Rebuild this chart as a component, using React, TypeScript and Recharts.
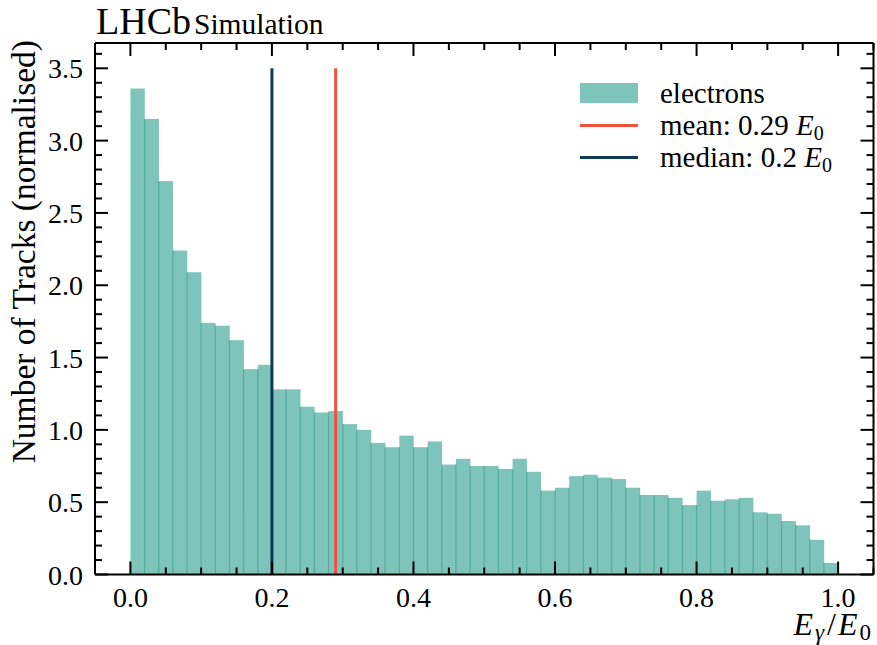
import { Bar, ComposedChart, Legend, Line, ReferenceLine, XAxis, YAxis } from "recharts";

// histogram of E_gamma / E0, 50 bins of width 0.02, normalised
const binStarts = [
  0.0, 0.02, 0.04, 0.06, 0.08, 0.1, 0.12, 0.14, 0.16, 0.18,
  0.2, 0.22, 0.24, 0.26, 0.28, 0.3, 0.32, 0.34, 0.36, 0.38,
  0.4, 0.42, 0.44, 0.46, 0.48, 0.5, 0.52, 0.54, 0.56, 0.58,
  0.6, 0.62, 0.64, 0.66, 0.68, 0.7, 0.72, 0.74, 0.76, 0.78,
  0.8, 0.82, 0.84, 0.86, 0.88, 0.9, 0.92, 0.94, 0.96, 0.98,
];
const binWidth = 0.02;
const electrons = [
  3.36, 3.15, 2.72, 2.24, 2.09, 1.74, 1.72, 1.62, 1.42, 1.45,
  1.28, 1.28, 1.16, 1.12, 1.13, 1.04, 1.0, 0.91, 0.88, 0.96,
  0.88, 0.92, 0.76, 0.8, 0.75, 0.75, 0.73, 0.8, 0.71, 0.58,
  0.6, 0.68, 0.69, 0.67, 0.66, 0.6, 0.55, 0.55, 0.53, 0.48,
  0.58, 0.51, 0.52, 0.53, 0.43, 0.42, 0.37, 0.34, 0.24, 0.08,
];
const meanValue = 0.29;
const medianValue = 0.2;
const lineTop = 3.5;

const xMajorTicks = [0, 0.2, 0.4, 0.6, 0.8, 1.0];
const xMinorTicks = [0.05, 0.1, 0.15, 0.25, 0.3, 0.35, 0.45, 0.5, 0.55, 0.65, 0.7, 0.75, 0.85, 0.9, 0.95, 1.05];
const yMajorTicks = [0, 0.5, 1.0, 1.5, 2.0, 2.5, 3.0, 3.5];
const yMinorTicks = [
  0.1, 0.2, 0.3, 0.4, 0.6, 0.7, 0.8, 0.9, 1.1, 1.2, 1.3, 1.4, 1.6, 1.7, 1.8, 1.9,
  2.1, 2.2, 2.3, 2.4, 2.6, 2.7, 2.8, 2.9, 3.1, 3.2, 3.3, 3.4, 3.6,
];

const legendItems = [
  { kind: "patch", label: "electrons", value: "" },
  { kind: "mean", label: "mean: ", value: "0.29" },
  { kind: "median", label: "median: ", value: "0.2" },
];

const FONT = "'Liberation Serif', 'Times New Roman', serif";
const FILL = "#7fc4bb";
const EDGE = "#55aea0";
const MEAN = "#f4513c";
const MEDIAN = "#0e3a56";

const histData = binStarts.map((s, i) => ({
  x: s + binWidth / 2,
  h: electrons[i],
  prev: i > 0 ? electrons[i - 1] : 0,
}));

const HistBar = (props: any) => {
  const { x, y, width, height, payload } = props;
  if (!height || height <= 0) return null;
  const perUnit = height / payload.h;
  const sep = Math.min(payload.h, payload.prev) * perUnit;
  return (
    <g>
      <rect x={x} y={y} width={width + 0.4} height={height} fill={FILL} />
      {sep > 0 && (
        <line x1={x} x2={x} y1={y + height} y2={y + height - sep} stroke={EDGE} strokeWidth={1.3} />
      )}
    </g>
  );
};

const XTick = (props: any) => {
  const { x, y, payload, side } = props;
  const major = xMajorTicks.includes(payload.value);
  const len = major ? 13 : 7;
  const dir = side === "top" ? 1 : -1;
  return (
    <g>
      <line x1={x} x2={x} y1={y} y2={y + dir * len} stroke="#000" strokeWidth={2} />
      {major && side !== "top" && (
        <text x={x} y={y + 32} textAnchor="middle" fontSize={28} fontFamily={FONT} fill="#000">
          {payload.value.toFixed(1)}
        </text>
      )}
    </g>
  );
};

const YTick = (props: any) => {
  const { x, y, payload, side } = props;
  const major = yMajorTicks.includes(payload.value);
  const len = major ? 13 : 7;
  const dir = side === "right" ? -1 : 1;
  return (
    <g>
      <line x1={x} x2={x + dir * len} y1={y} y2={y} stroke="#000" strokeWidth={2} />
      {major && side !== "right" && (
        <text x={x - 12} y={y + 10} textAnchor="end" fontSize={28} fontFamily={FONT} fill="#000">
          {payload.value.toFixed(1)}
        </text>
      )}
    </g>
  );
};

const YLabel = (props: any) => {
  const vb = props.viewBox || { x: 0, y: 43 };
  const lx = 35;
  const ly = vb.y - 3;
  return (
    <text
      x={lx}
      y={ly}
      transform={`rotate(-90, ${lx}, ${ly})`}
      textAnchor="end"
      fontSize={33.5}
      fontFamily={FONT}
      fill="#000"
    >
      Number of Tracks (normalised)
    </text>
  );
};

const XLabel = () => (
  <text x={871} y={635} textAnchor="end" fontSize={32} fontFamily={FONT} fill="#000">
    <tspan fontStyle="italic">E</tspan>
    <tspan fontSize={23} fontStyle="italic" dx={2} dy={5}>γ</tspan>
    <tspan dx={3} dy={-5}>/</tspan>
    <tspan fontStyle="italic" dx={2}>E</tspan>
    <tspan fontSize={23} dx={2} dy={5}>0</tspan>
  </text>
);

const LegendBox = () => (
  <div style={{ fontFamily: FONT, fontSize: 29, color: "#000" }}>
    {legendItems.map((item) => (
      <div key={item.kind} style={{ display: "flex", alignItems: "center", height: 32, lineHeight: "30px" }}>
        <div style={{ width: 58, display: "flex", alignItems: "center", marginRight: 22 }}>
          {item.kind === "patch" ? (
            <div style={{ width: 58, height: 20, background: FILL }} />
          ) : (
            <div style={{ width: 58, height: 3, background: item.kind === "mean" ? MEAN : MEDIAN }} />
          )}
        </div>
        <span style={{ whiteSpace: "nowrap" }}>
          {item.label}
          {item.value}
          {item.value && (
            <>
              {" "}
              <i>E</i>
              <span style={{ fontSize: 20, position: "relative", top: 5, lineHeight: 0 }}>0</span>
            </>
          )}
        </span>
      </div>
    ))}
  </div>
);

export default function App() {
  return (
    <div style={{ position: "absolute", left: 0, top: 0, width: 877, height: 645, background: "#fff" }}>
      <div
        style={{
          position: "absolute",
          left: 96,
          top: 0,
          fontFamily: FONT,
          color: "#000",
          whiteSpace: "nowrap",
          lineHeight: "42px",
        }}
      >
        <span style={{ fontSize: 38 }}>LHCb</span>
        <span style={{ fontSize: 29.5, marginLeft: 3 }}>Simulation</span>
      </div>
      <ComposedChart
        width={877}
        height={645}
        data={histData}
        margin={{ top: 0, right: 0, bottom: 0, left: 0 }}
        barCategoryGap={0}
        barGap={0}
      >
        <Bar dataKey="h" shape={<HistBar />} isAnimationActive={false} />
        <Line
          xAxisId="top"
          yAxisId="right"
          dataKey="h"
          stroke="none"
          dot={false}
          activeDot={false}
          legendType="none"
          isAnimationActive={false}
        />
        <ReferenceLine
          segment={[{ x: medianValue, y: 0 }, { x: medianValue, y: lineTop }]}
          stroke={MEDIAN}
          strokeWidth={3}
        />
        <ReferenceLine
          segment={[{ x: meanValue, y: 0 }, { x: meanValue, y: lineTop }]}
          stroke={MEAN}
          strokeWidth={3}
        />
        <XAxis
          dataKey="x"
          type="number"
          domain={[-0.05, 1.05]}
          allowDataOverflow
          ticks={[...xMajorTicks, ...xMinorTicks]}
          interval={0}
          height={70.5}
          tickSize={0}
          tickMargin={0}
          tickLine={false}
          axisLine={{ stroke: "#000", strokeWidth: 2 }}
          tick={<XTick side="bottom" />}
          label={{ content: () => <XLabel /> }}
        />
        <XAxis
          xAxisId="top"
          orientation="top"
          dataKey="x"
          type="number"
          domain={[-0.05, 1.05]}
          allowDataOverflow
          ticks={[...xMajorTicks, ...xMinorTicks]}
          interval={0}
          height={43}
          tickSize={0}
          tickMargin={0}
          tickLine={false}
          axisLine={{ stroke: "#000", strokeWidth: 2 }}
          tick={<XTick side="top" />}
        />
        <YAxis
          type="number"
          domain={[0, 3.675]}
          allowDataOverflow
          ticks={[...yMajorTicks, ...yMinorTicks]}
          interval={0}
          width={95}
          tickSize={0}
          tickMargin={0}
          tickLine={false}
          axisLine={{ stroke: "#000", strokeWidth: 2 }}
          tick={<YTick side="left" />}
          label={{ content: (p: any) => <YLabel {...p} /> }}
        />
        <YAxis
          yAxisId="right"
          orientation="right"
          type="number"
          domain={[0, 3.675]}
          allowDataOverflow
          ticks={[...yMajorTicks, ...yMinorTicks]}
          interval={0}
          width={3.5}
          tickSize={0}
          tickMargin={0}
          tickLine={false}
          axisLine={{ stroke: "#000", strokeWidth: 2 }}
          tick={<YTick side="right" />}
        />
        <Legend
          layout="horizontal"
          verticalAlign="middle"
          align="center"
          wrapperStyle={{ left: 580, top: 77, width: "auto" }}
          content={() => <LegendBox />}
        />
      </ComposedChart>
    </div>
  );
}
